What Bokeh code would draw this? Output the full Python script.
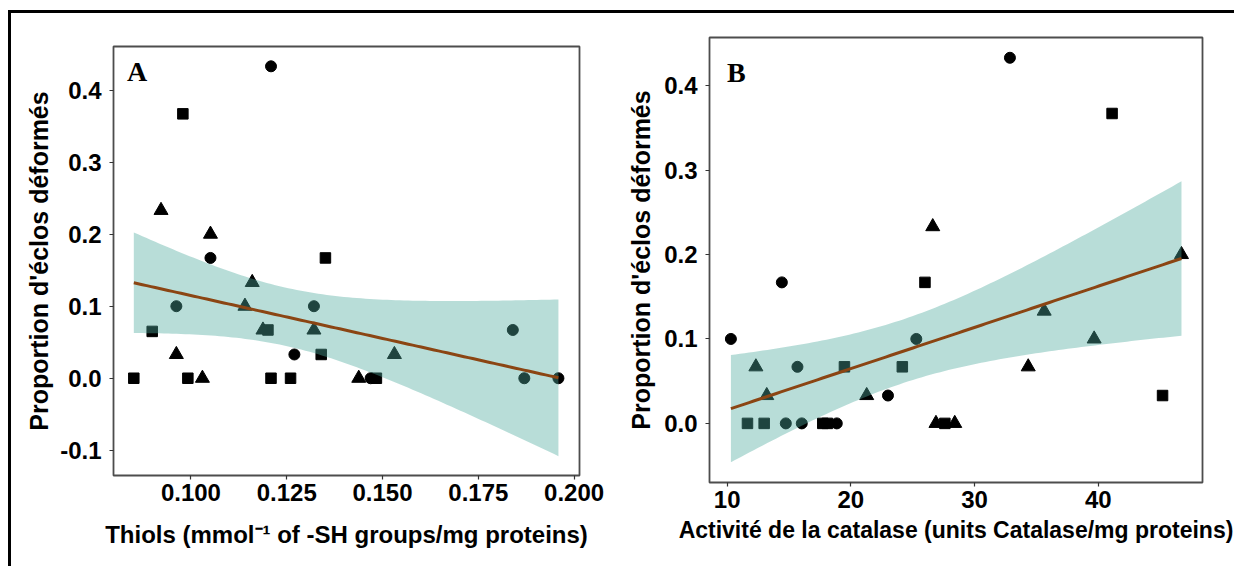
import numpy as np
from bokeh.plotting import figure
from bokeh.layouts import row
from bokeh.models import Range1d, FixedTicker, PrintfTickFormatter, Label
from bokeh.embed import file_html
from bokeh.resources import INLINE

# ---------------- data: panel A (thiols) ----------------
a_circle_x = [0.1209, 0.1051, 0.0962, 0.1270, 0.1321, 0.1840, 0.1870, 0.1959, 0.1469]
a_circle_y = [0.433, 0.167, 0.100, 0.033, 0.100, 0.067, 0.0, 0.0, 0.0]
a_square_x = [0.0979, 0.0851, 0.0899, 0.0992, 0.1209, 0.1260, 0.1351, 0.1201, 0.1340, 0.1484]
a_square_y = [0.367, 0.0, 0.065, 0.0, 0.0, 0.0, 0.167, 0.067, 0.033, 0.0]
a_tri_x = [0.0922, 0.1051, 0.0962, 0.1030, 0.1160, 0.1141, 0.1188, 0.1321, 0.1531, 0.1438]
a_tri_y = [0.233, 0.200, 0.033, 0.0, 0.133, 0.100, 0.067, 0.067, 0.033, 0.0]

# ---------------- data: panel B (catalase) ----------------
b_circle_x = [32.86, 14.42, 10.30, 25.29, 15.68, 23.0, 14.74, 16.03, 18.86]
b_circle_y = [0.433, 0.167, 0.100, 0.100, 0.067, 0.033, 0.0, 0.0, 0.0]
b_square_x = [41.12, 25.99, 19.48, 24.16, 45.2, 11.64, 12.99, 17.73, 18.1, 27.6]
b_square_y = [0.367, 0.167, 0.067, 0.067, 0.033, 0.0, 0.0, 0.0, 0.0, 0.0]
b_tri_x = [26.62, 46.73, 35.63, 39.67, 34.34, 12.32, 13.2, 21.28, 26.88, 28.4]
b_tri_y = [0.233, 0.200, 0.133, 0.100, 0.067, 0.067, 0.033, 0.033, 0.0, 0.0]

a_xticks = [0.100, 0.125, 0.150, 0.175, 0.200]
a_yticks = [-0.1, 0.0, 0.1, 0.2, 0.3, 0.4]
b_xticks = [10, 20, 30, 40]
b_yticks = [0.0, 0.1, 0.2, 0.3, 0.4]

T975 = 2.052  # t quantile, df = n - 2 = 27

FONT = "Liberation Sans"
RIBBON = "#4DAA9E"
LINE = "#8B4513"


def lm_fit(xs, ys):
    x = np.asarray(xs, float)
    y = np.asarray(ys, float)
    n = len(x)
    b1, b0 = np.polyfit(x, y, 1)
    resid = y - (b0 + b1 * x)
    s = np.sqrt(np.sum(resid ** 2) / (n - 2))
    sxx = np.sum((x - x.mean()) ** 2)
    grid = np.linspace(x.min(), x.max(), 100)
    fit = b0 + b1 * grid
    se = s * np.sqrt(1.0 / n + (grid - x.mean()) ** 2 / sxx)
    return grid, fit, fit - T975 * se, fit + T975 * se


def make_panel(cx, cy, sx, sy, tx, ty, xr, yr, xticks, yticks, xfmt, xlabel, tag, tagpos,
               mbl, mbr, mbt, mbb, fw, fh, xtitle_size, xtitle_standoff, ytitle_standoff):
    p = figure(output_backend="svg", toolbar_location=None, title=None,
               x_range=Range1d(*xr), y_range=Range1d(*yr),
               frame_width=fw, frame_height=fh,
               min_border_left=mbl, min_border_right=mbr,
               min_border_top=mbt, min_border_bottom=mbb)
    p.background_fill_color = "white"
    p.border_fill_color = None
    p.outline_line_color = "#4d4d4d"
    p.outline_line_width = 1.8
    p.xgrid.visible = False
    p.ygrid.visible = False

    # points first; the translucent ribbon sits on top of them
    p.scatter(cx, cy, marker="circle", size=11, color="black")
    p.scatter(sx, sy, marker="square", size=10.5, color="black")
    p.scatter(tx, ty, marker="triangle", size=14, color="black")

    allx = list(cx) + list(sx) + list(tx)
    ally = list(cy) + list(sy) + list(ty)
    g, f, lo, hi = lm_fit(allx, ally)
    p.varea(x=g, y1=lo, y2=hi, fill_color=RIBBON, fill_alpha=0.4)
    p.line(g, f, line_color=LINE, line_width=3)

    for ax in (p.xaxis[0], p.yaxis[0]):
        ax.axis_line_color = None
        ax.major_tick_line_color = "#333333"
        ax.major_tick_line_width = 1.2
        ax.major_tick_out = 4
        ax.major_tick_in = 0
        ax.minor_tick_line_color = None
        ax.major_label_text_font = FONT
        ax.major_label_text_font_style = "bold"
        ax.major_label_text_font_size = "24px"
        ax.major_label_text_color = "black"
        ax.axis_label_text_font = FONT
        ax.axis_label_text_font_style = "bold"
        ax.axis_label_text_color = "black"

    p.xaxis.axis_label_text_font_size = xtitle_size
    p.yaxis.axis_label_text_font_size = "25px"
    p.xaxis.ticker = FixedTicker(ticks=xticks)
    p.yaxis.ticker = FixedTicker(ticks=yticks)
    p.xaxis.formatter = PrintfTickFormatter(format=xfmt)
    p.yaxis.formatter = PrintfTickFormatter(format="%.1f")
    p.xaxis.major_label_standoff = 4
    p.yaxis.major_label_standoff = 8
    p.xaxis.axis_label = xlabel
    p.yaxis.axis_label = "Proportion d'éclos déformés"
    p.xaxis.axis_label_standoff = xtitle_standoff
    p.yaxis.axis_label_standoff = ytitle_standoff

    p.add_layout(Label(x=tagpos[0], y=tagpos[1], text=tag, text_font="Liberation Serif",
                       text_font_style="bold", text_font_size="28px", text_color="black",
                       text_baseline="top", text_align="left"))
    return p


pA = make_panel(a_circle_x, a_circle_y, a_square_x, a_square_y, a_tri_x, a_tri_y,
                (0.0798, 0.2014), (-0.135, 0.4605), a_xticks, a_yticks, "%.3f",
                "Thiols (mmol⁻¹ of -SH groups/mg proteins)", "A", (0.0833, 0.447),
                102, 39, 33, 91, 466, 429, "24px", 17, 4)

pB = make_panel(b_circle_x, b_circle_y, b_square_x, b_square_y, b_tri_x, b_tri_y,
                (8.57, 48.43), (-0.070, 0.457), b_xticks, b_yticks, "%d",
                "Activité de la catalase (units Catalase/mg proteins)", "B", (9.98, 0.434),
                91, 32, 23, 85, 493, 445, "23px", 6, 6)
pB.styles = {"margin-top": "-9px"}

layout = row(pA, pB, styles={"border-top": "3px solid #000", "border-left": "3px solid #000",
                             "margin-top": "10px", "margin-left": "8px"})

open("out.html", "w").write(file_html(layout, INLINE))
